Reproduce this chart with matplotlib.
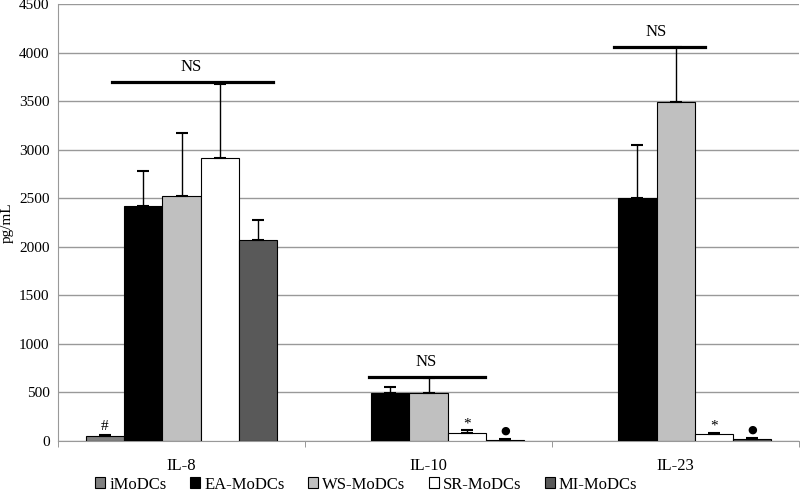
import matplotlib.pyplot as plt
import numpy as np

plt.rcParams['font.family'] = ['Liberation Serif', 'DejaVu Serif']

cytokines = ['IL-8', 'IL-10', 'IL-23']
groups = ['iMoDCs', 'EA-MoDCs', 'WS-MoDCs', 'SR-MoDCs', 'MI-MoDCs']
colors = ['#808080', '#000000', '#c0c0c0', '#ffffff', '#595959']

# mean values per group (rows) for IL-8, IL-10, IL-23
means = [
    [50, np.nan, np.nan],
    [2420, 495, 2500],
    [2525, 495, 3495],
    [2915, 80, 70],
    [2075, 15, 25],
]
# upper error
errs = [
    [10, np.nan, np.nan],
    [360, 65, 550],
    [650, 155, 565],
    [765, 30, 10],
    [205, 5, 5],
]

# NS lines: (x start, x end, height, text x)
ns_lines = [(-0.28, 0.37, 3700, 0.04), (0.76, 1.23, 660, 0.99), (1.75, 2.12, 4065, 1.92)]
# small marks: (cytokine idx, bar idx, symbol, height)
marks = [(0, 0, '#', 80), (1, 3, '*', 105), (1, 4, '\u25cf', 60),
         (2, 3, '*', 85), (2, 4, '\u25cf', 70)]

fig = plt.figure(figsize=(8, 4.93), dpi=100)
ax = fig.add_axes([0.0725, 0.1055, 0.9265, 0.8855])

w = 0.155
x = np.arange(len(cytokines))
for i, g in enumerate(groups):
    pos = x + (i - 2) * w
    m = np.array(means[i], dtype=float)
    e = np.array(errs[i], dtype=float)
    ax.bar(pos, m, w, color=colors[i], edgecolor='black', linewidth=0.8,
           label=g, zorder=3)
    ax.errorbar(pos, m, yerr=[np.zeros_like(e), e], fmt='none', ecolor='black',
                elinewidth=1, capsize=4, capthick=1.5, zorder=4)

for x0, x1, h, tx in ns_lines:
    ax.plot([x0, x1], [h, h], color='black', lw=2.3, zorder=5)
    ax.text(tx, h + 70, 'NS', ha='center', va='bottom', fontsize=12)

for ci, bi, s, h in marks:
    if s == '\u25cf':
        ax.text(ci + (bi - 2) * w, h, s, ha='center', va='bottom', fontsize=8,
                family=['DejaVu Sans'])
    else:
        ax.text(ci + (bi - 2) * w, h, s, ha='center', va='bottom', fontsize=11)

ax.set_xlim(-0.5, 2.5)
ax.set_ylim(0, 4500)
ax.set_yticks(np.arange(0, 4501, 500))
ax.set_xticks(x)
ax.set_xticklabels(cytokines, fontsize=12)
ax.set_xticks([-0.5, 0.5, 1.5, 2.5], minor=True)
ax.tick_params(axis='x', which='major', length=0, pad=12)
ax.tick_params(axis='x', which='minor', length=4, color='#888888')
ax.tick_params(axis='y', length=0, labelsize=11, pad=6)
ax.yaxis.grid(True, color='#999999', lw=1, zorder=0)
for s in ['top', 'right']:
    ax.spines[s].set_visible(False)
ax.spines['left'].set_color('#999999')
ax.spines['bottom'].set_color('#999999')
ax.set_ylabel('pg/mL', fontsize=11)

ax.legend(loc='center', bbox_to_anchor=(0.416, -0.1), ncol=5, frameon=False,
          fontsize=12, handlelength=0.6, handleheight=0.6, handletextpad=0.25,
          columnspacing=1.4, borderpad=0.1)

fig.savefig('out.png', dpi=100)
